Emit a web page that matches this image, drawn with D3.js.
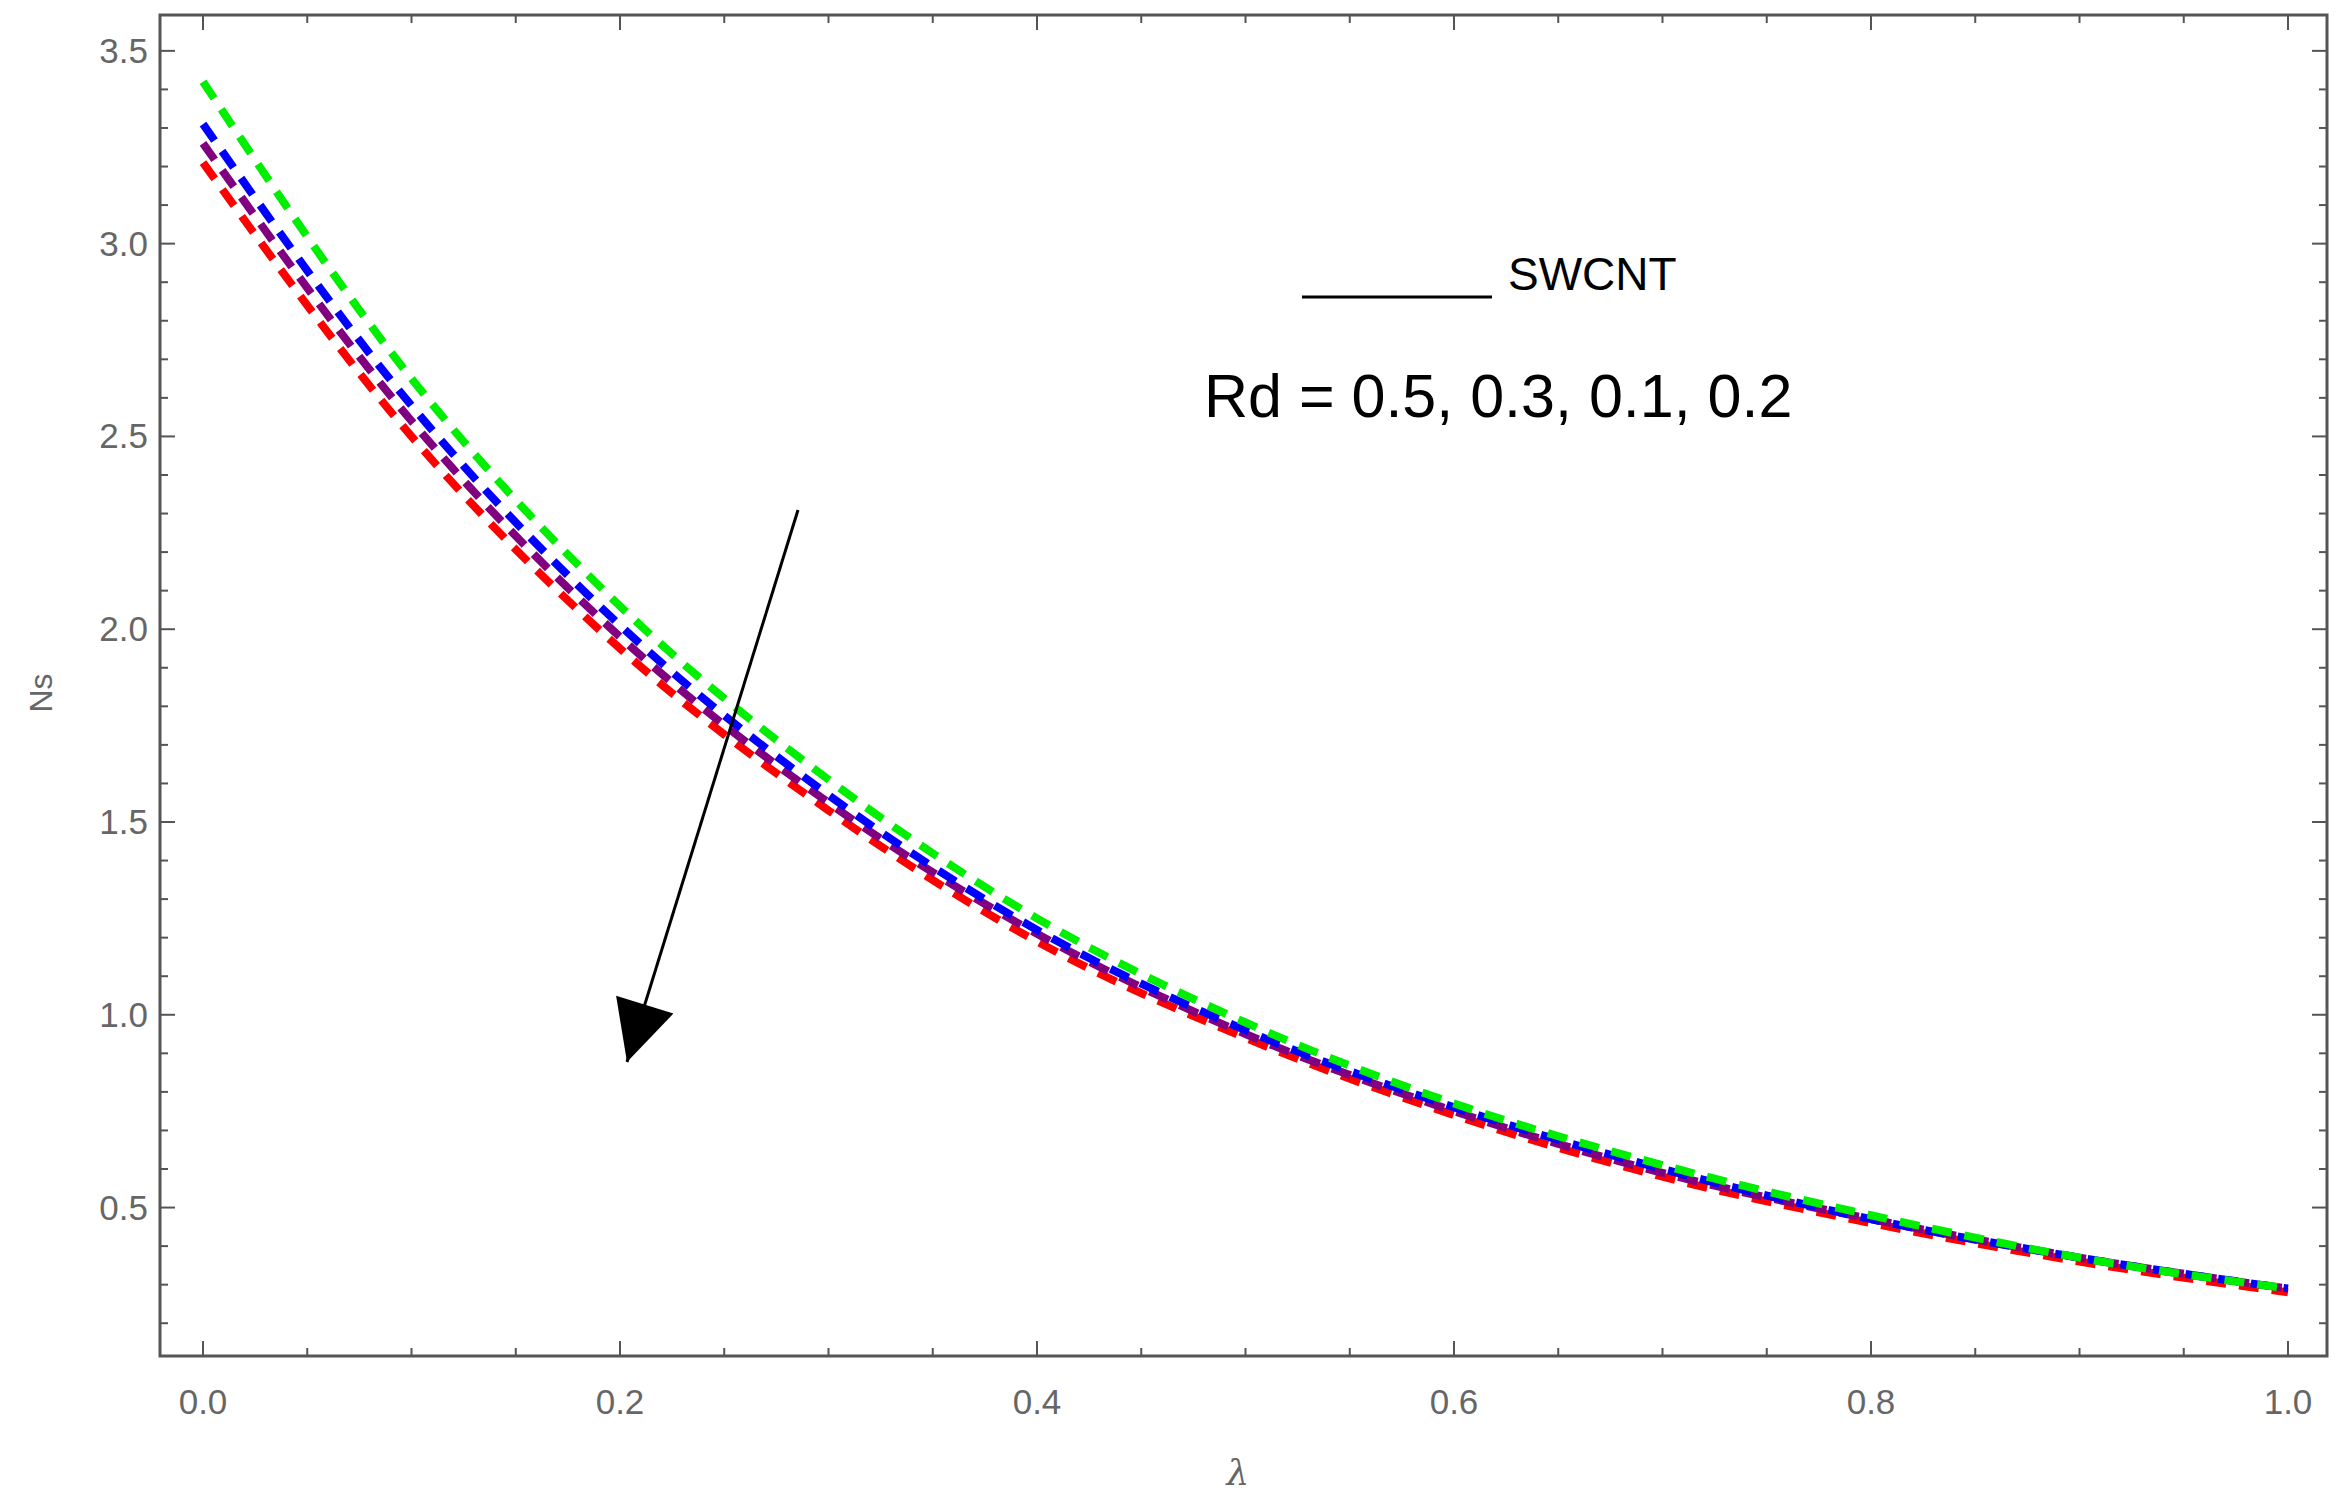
<!DOCTYPE html><html><head><meta charset="utf-8"><script src="https://cdn.jsdelivr.net/npm/d3@7"></script>
<style>body{margin:0;background:#fff}</style></head><body><svg id="c" width="2342" height="1498"></svg>
<script>
const lambda=[0,0.1,0.2,0.3,0.4,0.5,0.6,0.7,0.8,0.9,1.0];
const green=[3.42,2.65,2.06,1.61,1.25,0.98,0.77,0.61,0.48,0.37,0.29];
const blue=[3.31,2.58,2.01,1.57,1.22,0.96,0.76,0.60,0.47,0.37,0.29];
const purple=[3.26,2.54,1.98,1.55,1.21,0.95,0.75,0.59,0.47,0.37,0.29];
const red=[3.21,2.50,1.95,1.53,1.19,0.94,0.74,0.58,0.46,0.36,0.28];
const xTicks=[0,0.2,0.4,0.6,0.8,1.0];
const yTicks=[0.5,1.0,1.5,2.0,2.5,3.0,3.5];
const svg=d3.select("#c");
const L=160,R=2327,T=15,B=1356;
const x2=d3.scaleLinear().domain([0,1]).range([203,2288]);
const y=d3.scaleLinear().domain([0.115,3.593]).range([B,T]);
const g=svg.append("g");
g.append("rect").attr("x",L).attr("y",T).attr("width",R-L).attr("height",B-T).attr("fill","none").attr("stroke","#555").attr("stroke-width",3);
const minX=d3.range(0,1.0001,0.05), minY=d3.range(0.2,3.6,0.1);
minX.forEach(v=>{const M=Math.abs(v*5-Math.round(v*5))<1e-6;const len=M?15:8;
 g.append("line").attr("x1",x2(v)).attr("x2",x2(v)).attr("y1",B).attr("y2",B-len).attr("stroke","#555").attr("stroke-width",2);
 g.append("line").attr("x1",x2(v)).attr("x2",x2(v)).attr("y1",T).attr("y2",T+len).attr("stroke","#555").attr("stroke-width",2);});
minY.forEach(v=>{const M=Math.abs(v*2-Math.round(v*2))<1e-6;const len=M?15:8;
 g.append("line").attr("x1",L).attr("x2",L+len).attr("y1",y(v)).attr("y2",y(v)).attr("stroke","#555").attr("stroke-width",2);
 g.append("line").attr("x1",R).attr("x2",R-len).attr("y1",y(v)).attr("y2",y(v)).attr("stroke","#555").attr("stroke-width",2);});
xTicks.forEach(v=>g.append("text").attr("x",x2(v)).attr("y",1414).attr("text-anchor","middle").attr("font-family","Liberation Sans, sans-serif").attr("font-size",35).attr("fill","#666").text(v.toFixed(1)));
yTicks.forEach(v=>g.append("text").attr("x",L-12).attr("y",y(v)+12).attr("text-anchor","end").attr("font-family","Liberation Sans, sans-serif").attr("font-size",35).attr("fill","#666").text(v.toFixed(1)));
g.append("text").attr("transform","translate(52,693) rotate(-90)").attr("text-anchor","middle").attr("font-family","Liberation Sans, sans-serif").attr("font-size",32).attr("fill","#666").text("Ns");
g.append("text").attr("x",1238).attr("y",1485).attr("text-anchor","middle").attr("font-family","DejaVu Serif, serif").attr("font-style","italic").attr("font-size",36).attr("fill","#666").text("λ");
const line=d3.line().x((d,i)=>x2(lambda[i])).y(d=>y(d)).curve(d3.curveMonotoneX);
[[red,"#ff0000"],[purple,"#800080"],[blue,"#0000ff"],[green,"#00ee00"]].forEach(([s,c])=>{
 g.append("path").attr("d",line(s)).attr("fill","none").attr("stroke",c).attr("stroke-width",8).attr("stroke-dasharray","20,13");});
g.append("line").attr("x1",1302).attr("x2",1492).attr("y1",297).attr("y2",297).attr("stroke","#000").attr("stroke-width",3);
g.append("text").attr("x",1508).attr("y",290).attr("font-family","Liberation Sans, sans-serif").attr("font-size",46).text("SWCNT");
g.append("text").attr("x",1204).attr("y",417).attr("font-family","Liberation Sans, sans-serif").attr("font-size",61).text("Rd = 0.5, 0.3, 0.1, 0.2");
const defs=svg.append("defs");
defs.append("marker").attr("id","ah").attr("viewBox","0 0 10 10").attr("refX",10).attr("refY",5).attr("markerWidth",90).attr("markerHeight",60).attr("markerUnits","userSpaceOnUse").attr("orient","auto")
 .append("path").attr("d","M0,0 L10,5 L0,10 Z");
g.append("line").attr("x1",798).attr("y1",510).attr("x2",627).attr("y2",1062).attr("stroke","#000").attr("stroke-width",3).attr("marker-end","url(#ah)");
</script></body></html>
